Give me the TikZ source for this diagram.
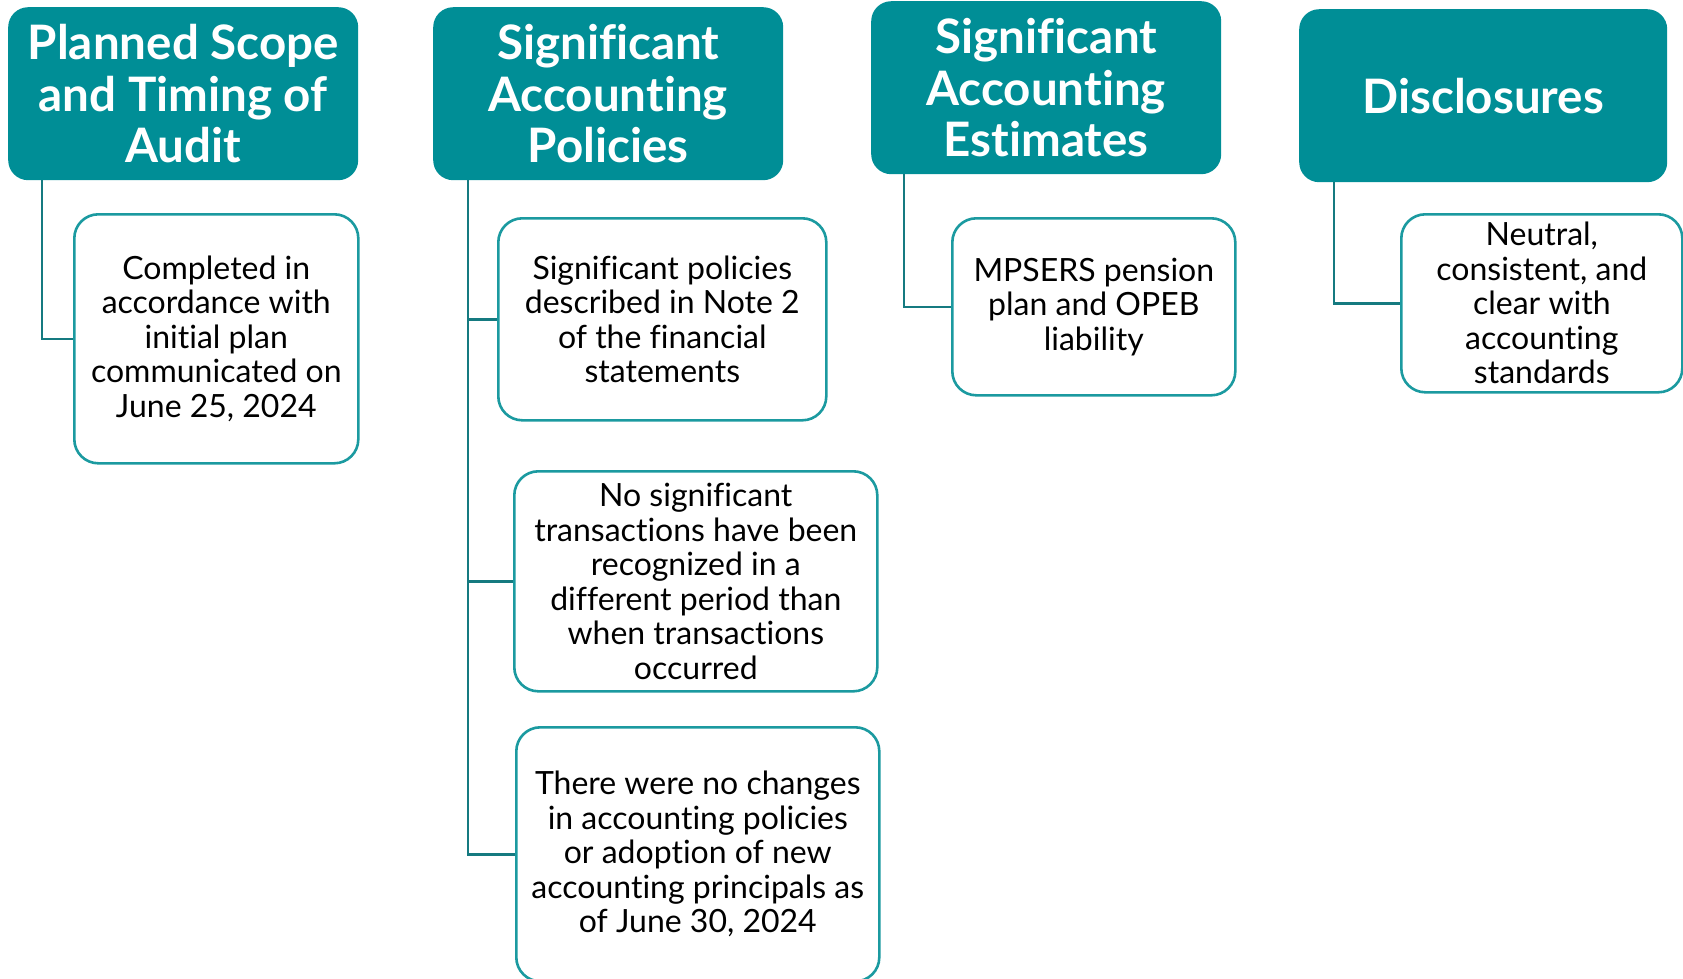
\documentclass[tikz,border=0pt]{standalone}
\usepackage{fontspec}
\setmainfont{Lato}[Ligatures=NoCommon]
\definecolor{hdrfill}{HTML}{008E96}
\definecolor{kidline}{HTML}{1B9AA0}
\definecolor{connline}{HTML}{157A80}
\begin{document}
\begin{tikzpicture}[x=1pt,y=-1pt,
  hdr/.style={fill=hdrfill, rounded corners=20pt, anchor=north west, inner sep=0pt,
    align=center, text=white, font=\fontsize{47.5}{51.5}\selectfont\bfseries},
  kid/.style={draw=kidline, line width=2.6pt, fill=white, rounded corners=24pt, anchor=north west,
    inner sep=0pt, align=center, text=black, font=\fontsize{32}{34.5}\selectfont},
  conn/.style={draw=connline, line width=2.6pt}]
\useasboundingbox (0,0) rectangle (1683,978);
% headers
\node[hdr, minimum width=350pt, minimum height=173pt] (h1) at (8,7) {Planned Scope\\and Timing of\\Audit};
\node[hdr, minimum width=350pt, minimum height=173pt] (h2) at (433,7) {Significant\\Accounting\\Policies};
\node[hdr, minimum width=350pt, minimum height=173pt] (h3) at (871,1) {Significant\\Accounting\\Estimates};
\node[hdr, minimum width=368pt, minimum height=173pt] (h4) at (1299,9) {Disclosures};
% children
\node[kid, minimum width=284pt, minimum height=249pt] (c1) at (73,213) {Completed in\\accordance with\\initial plan\\communicated on\\June 25, 2024};
\node[kid, minimum width=328pt, minimum height=202pt] (c2a) at (497,217) {Significant policies\\described in Note 2\\of the financial\\statements};
\node[kid, minimum width=363pt, minimum height=220pt] (c2b) at (513,470) {No significant\\transactions have been\\recognized in a\\different period than\\when transactions\\occurred};
\node[kid, minimum width=363pt, minimum height=254pt] (c2c) at (515,726) {There were no changes\\in accounting policies\\or adoption of new\\accounting principals as\\of June 30, 2024};
\node[kid, minimum width=283pt, minimum height=177pt] (c3) at (951,217) {MPSERS pension\\plan and OPEB\\liability};
\node[kid, minimum width=281pt, minimum height=178pt] (c4) at (1400,213) {Neutral,\\consistent, and\\clear with\\accounting\\standards};
% connectors
\draw[conn] ([xshift=34pt]h1.south west) |- (c1.west);
\draw[conn] ([xshift=35pt]h2.south west) |- (c2a.west);
\draw[conn] ([xshift=35pt]h2.south west) |- (c2b.west);
\draw[conn] ([xshift=35pt]h2.south west) |- (c2c.west);
\draw[conn] ([xshift=33pt]h3.south west) |- (c3.west);
\draw[conn] ([xshift=35pt]h4.south west) |- (c4.west);
\end{tikzpicture}
\end{document}
